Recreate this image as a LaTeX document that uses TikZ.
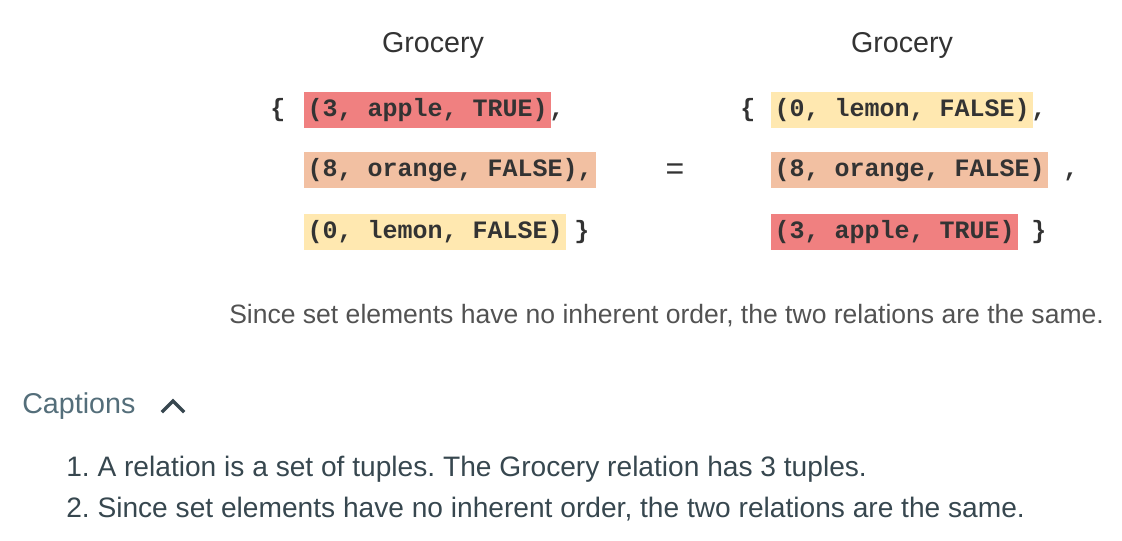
\documentclass[tikz,border=0pt]{standalone}
\usepackage{fontspec}
\setmainfont{Liberation Sans}
\setmonofont{Liberation Mono}
\definecolor{cRed}{RGB}{240,128,128}
\definecolor{cOrange}{RGB}{242,192,162}
\definecolor{cYellow}{RGB}{255,232,176}
\definecolor{cText}{RGB}{51,51,51}
\definecolor{cCap}{RGB}{84,110,122}
\definecolor{cItem}{RGB}{55,71,79}
\tikzset{
  tup/.style={anchor=north west, inner xsep=2.6pt, inner ysep=4.5pt, text height=13.5pt, text depth=4.5pt,
    font=\fontsize{18.75pt}{22pt}\selectfont\ttfamily\bfseries, text=cText},
  punct/.style={anchor=base west, inner sep=0pt, font=\fontsize{18.75pt}{22pt}\selectfont\ttfamily\bfseries, text=cText},
  title/.style={anchor=base, inner sep=0pt, font=\fontsize{21.5pt}{25pt}\selectfont, text=cText},
  note/.style={anchor=base west, inner sep=0pt, font=\fontsize{19.9pt}{23pt}\selectfont\frenchspacing, text=cText!85!white},
  caphead/.style={anchor=base west, inner sep=0pt, font=\fontsize{21.5pt}{25pt}\selectfont, text=cCap},
  item/.style={anchor=base west, inner sep=0pt, font=\fontsize{21.1pt}{25pt}\selectfont\frenchspacing, text=cItem},
}
\begin{document}
\begin{tikzpicture}[x=0.75pt,y=-0.75pt]
\useasboundingbox (0,0) rectangle (1122,540);
% headers
\node[title] (g1) at (433,52) {Grocery};
\node[title] (g2) at (902,52) {Grocery};
% left relation
\node[punct] (lob) at (270,116) {\{};
\node[tup, fill=cRed] (l1) at (304,92) {(3, apple, TRUE)};
\node[punct] (lc1) at (549,116) {,};
\node[tup, fill=cOrange] (l2) at (304,152) {(8, orange, FALSE),};
\node[tup, fill=cYellow] (l3) at (304,214) {(0, lemon, FALSE)};
\node[punct] (lcb) at (574,238) {\}};
% equals
\node[anchor=center, inner sep=0pt, font=\fontsize{24pt}{28pt}\selectfont, text=cText] (eq) at (675,172) {=};
% right relation
\node[punct] (rob) at (740,116) {\{};
\node[tup, fill=cYellow] (r1) at (771,92) {(0, lemon, FALSE)};
\node[punct] (rc1) at (1031,116) {,};
\node[tup, fill=cOrange] (r2) at (771,152) {(8, orange, FALSE)~};
\node[punct] (rc2) at (1063,176) {,};
\node[tup, fill=cRed] (r3) at (771,214) {(3, apple, TRUE)};
\node[punct] (rcb) at (1031,238) {\}};
% note
\node[note] (since) at (229,323) {Since set elements have no inherent order, the two relations are the same.};
% captions
\node[caphead] (cap) at (22,413) {Captions};
\coordinate (chA) at (163,411);
\coordinate (chB) at (173,401);
\coordinate (chC) at (183,411);
\draw[cItem, line width=2.4pt, line join=miter, line cap=rect] (chA) -- (chB) -- (chC);
\node[item] (i1) at (66,476) {1. A relation is a set of tuples. The Grocery relation has 3 tuples.};
\node[item] (i2) at (66,517) {2. Since set elements have no inherent order, the two relations are the same.};
\end{tikzpicture}
\end{document}
